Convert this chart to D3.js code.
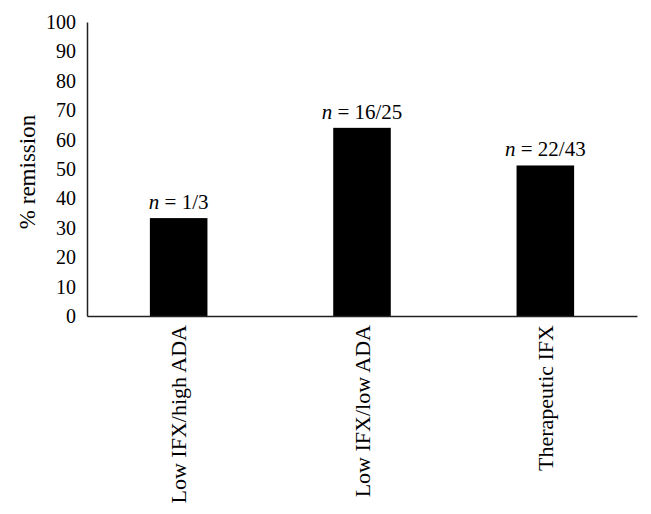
<!DOCTYPE html>
<html>
<head>
<meta charset="utf-8">
<script src="https://cdn.jsdelivr.net/npm/d3@7"></script>
<style>
  body { margin: 0; background: #fff; }
  text { font-family: "Liberation Serif", "DejaVu Serif", serif; fill: #000; }
</style>
</head>
<body>
<div id="svg-area"></div>
<script>
// data
var groups = ["Low IFX/high ADA", "Low IFX/low ADA", "Therapeutic IFX"];
var remission = [33.3, 64.0, 51.2];
var counts = ["1/3", "16/25", "22/43"];
var yTicks = [0, 10, 20, 30, 40, 50, 60, 70, 80, 90, 100];

var svgWidth = 651;
var svgHeight = 514;

var chartMargin = { top: 22, right: 14, bottom: 198, left: 87 };
var chartWidth = svgWidth - chartMargin.left - chartMargin.right;
var chartHeight = svgHeight - chartMargin.top - chartMargin.bottom;

var svg = d3.select("#svg-area")
  .append("svg")
  .attr("width", svgWidth)
  .attr("height", svgHeight);

var chartGroup = svg.append("g")
  .attr("transform", `translate(${chartMargin.left}, ${chartMargin.top})`);

var xBandScale = d3.scaleBand()
  .domain(groups)
  .range([0, chartWidth])
  .paddingInner(0.686)
  .paddingOuter(0.343);

var yLinearScale = d3.scaleLinear()
  .domain([0, 100])
  .range([chartHeight, 0]);

// bars
chartGroup.selectAll(".bar")
  .data(groups)
  .enter()
  .append("rect")
  .attr("class", "bar")
  .attr("x", d => xBandScale(d))
  .attr("y", (d, i) => yLinearScale(remission[i]))
  .attr("width", xBandScale.bandwidth())
  .attr("height", (d, i) => chartHeight - yLinearScale(remission[i]))
  .attr("fill", "#000");

// n = x/y labels
var nLabels = chartGroup.selectAll(".nlabel")
  .data(groups)
  .enter()
  .append("text")
  .attr("class", "nlabel")
  .attr("x", d => xBandScale(d) + xBandScale.bandwidth() / 2)
  .attr("y", (d, i) => yLinearScale(remission[i]) - 9)
  .attr("text-anchor", "middle")
  .style("font-size", "21px");
nLabels.append("tspan").style("font-style", "italic").text("n");
nLabels.append("tspan").text((d, i) => " = " + counts[i]);

// y axis
var leftAxis = d3.axisLeft(yLinearScale).tickValues(yTicks).tickSize(0).tickPadding(11);
var yAxis = chartGroup.append("g").call(leftAxis);
yAxis.select(".domain").attr("stroke", "#222").attr("stroke-width", 1.5);
yAxis.selectAll("text").style("font-size", "20px").style("font-family", "'Liberation Serif', serif");

// x axis
var bottomAxis = d3.axisBottom(xBandScale).tickSize(0).tickPadding(0);
var xAxis = chartGroup.append("g")
  .attr("transform", `translate(0, ${chartHeight})`)
  .call(bottomAxis);
xAxis.select(".domain").attr("stroke", "#222").attr("stroke-width", 1.5);
xAxis.selectAll("text")
  .style("font-size", "22px")
  .style("font-family", "'Liberation Serif', serif")
  .attr("transform", "rotate(-90)")
  .attr("text-anchor", "end")
  .attr("x", -9)
  .attr("y", 0)
  .attr("dy", "0.35em");

// y title
chartGroup.append("text")
  .attr("transform", "rotate(-90)")
  .attr("x", -chartHeight / 2 - 3)
  .attr("y", -52)
  .attr("text-anchor", "middle")
  .style("font-size", "23px")
  .text("% remission");
</script>
</body>
</html>
